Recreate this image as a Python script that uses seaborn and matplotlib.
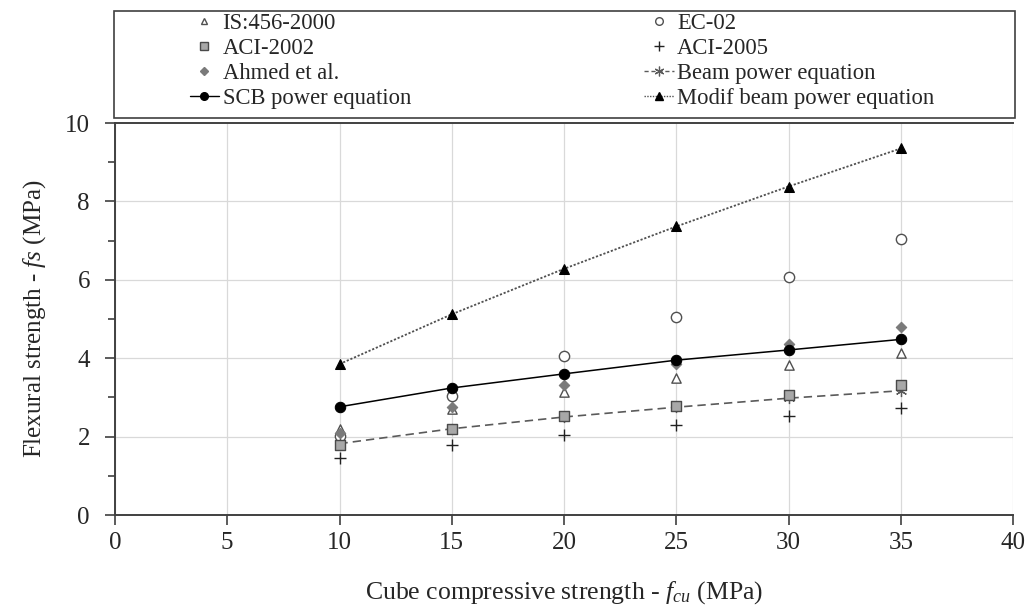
import matplotlib
matplotlib.use("Agg")
import matplotlib.pyplot as plt
from matplotlib.lines import Line2D
from matplotlib.patches import Rectangle
from matplotlib.ticker import MultipleLocator
import seaborn as sns
import numpy as np

# ---------------- data ----------------
fcu = [10, 15, 20, 25, 30, 35]
is456 = [2.19, 2.70, 3.13, 3.50, 3.82, 4.14]
ec02 = [2.01, 3.03, 4.05, 5.06, 6.06, 7.05]
aci2002 = [1.79, 2.19, 2.52, 2.79, 3.06, 3.31]
aci2005 = [1.46, 1.79, 2.05, 2.30, 2.53, 2.73]
ahmed = [2.08, 2.76, 3.32, 3.86, 4.35, 4.80]
beam_power = [1.82, 2.20, 2.50, 2.75, 2.98, 3.17]
scb_power = [2.76, 3.24, 3.60, 3.95, 4.21, 4.48]
modif_beam = [3.85, 5.12, 6.28, 7.36, 8.38, 9.35]

labels = ["IS:456-2000", "EC-02", "ACI-2002", "ACI-2005", "Ahmed et al.",
          "Beam power equation", "SCB power equation", "Modif beam power equation"]
xticks = [0, 5, 10, 15, 20, 25, 30, 35, 40]
yticks = [0, 2, 4, 6, 8, 10]

# ---------------- style ----------------
sns.set_style("white")
plt.rcParams["font.family"] = ["Liberation Serif", "DejaVu Serif"]
plt.rcParams["mathtext.fontset"] = "custom"
plt.rcParams["mathtext.rm"] = "Liberation Serif"
plt.rcParams["mathtext.it"] = "Liberation Serif:italic"

fig = plt.figure(figsize=(10.32, 6.15), dpi=100)
ax = fig.add_axes([115/1032, 1-515/615, 898/1032, 392/615])

grid_c = "#d9d9d9"
spine_c = "#404040"
for v in xticks:
    ax.axvline(v, color=grid_c, lw=0.9, zorder=0)
for v in yticks[1:-1]:
    ax.axhline(v, color=grid_c, lw=0.9, zorder=0)

# series
sns.scatterplot(x=fcu, y=is456, ax=ax, marker="^", s=45, facecolor="white",
                edgecolor="#505050", linewidth=1.0, zorder=3)
sns.scatterplot(x=fcu, y=ec02, ax=ax, marker="o", s=55, facecolor="white",
                edgecolor="#505050", linewidth=1.0, zorder=3)
sns.scatterplot(x=fcu, y=ahmed, ax=ax, marker="D", s=28, color="#7a7a7a",
                edgecolor="#7a7a7a", linewidth=0.8, zorder=3)
sns.scatterplot(x=fcu, y=aci2005, ax=ax, marker="+", s=70, color="#222222",
                linewidth=1.0, zorder=3)
sns.lineplot(x=fcu, y=beam_power, ax=ax, color="#5a5a5a", lw=1.2,
             linestyle=(0, (5, 3)), marker=(6, 2, 0), markersize=8,
             markeredgewidth=0.9, markeredgecolor="#5a5a5a", zorder=3)
sns.scatterplot(x=fcu, y=aci2002, ax=ax, marker="s", s=60, color="#a8a8a8",
                edgecolor="#4a4a4a", linewidth=1.0, zorder=4)
sns.lineplot(x=fcu, y=scb_power, ax=ax, color="black", lw=1.1, marker="o",
             markersize=7.5, markeredgecolor="black", zorder=5)
sns.lineplot(x=fcu, y=modif_beam, ax=ax, color="#505050", lw=1.3,
             linestyle=(0, (1.2, 1.0)), marker="^", markersize=7.5,
             markerfacecolor="black", markeredgecolor="black", zorder=5)

ax.set_xlim(0, 40)
ax.set_ylim(0, 10)
ax.set_xticks(xticks)
ax.set_yticks(yticks)
ax.yaxis.set_minor_locator(MultipleLocator(1))
ax.tick_params(axis="both", which="major", direction="out", length=7,
               width=1.2, color=spine_c, labelsize=18, bottom=True, left=True)
ax.tick_params(axis="y", which="major", pad=11)
ax.tick_params(axis="x", which="major", pad=5)
ax.tick_params(axis="y", which="minor", direction="out", length=5,
               width=1.2, color=spine_c, left=True)
for side in ["left", "bottom", "top"]:
    ax.spines[side].set_visible(True)
    ax.spines[side].set_color(spine_c)
    ax.spines[side].set_linewidth(1.4)
ax.spines["right"].set_visible(False)

ax.set_xlabel(r"Cube compressive strength - $f_{cu}$ (MPa)", fontsize=18.5,
              labelpad=18)
ax.set_ylabel(r"Flexural strength - $fs$ (MPa)", fontsize=18, labelpad=12)

# legend (row-wise order as in the reference: reorder for column filling)
h = [
    Line2D([], [], ls="", marker="^", ms=5, mfc="white", mec="#505050"),
    Line2D([], [], ls="", marker="o", ms=5.5, mfc="white", mec="#505050"),
    Line2D([], [], ls="", marker="s", ms=5.5, mfc="#a8a8a8", mec="#4a4a4a"),
    Line2D([], [], ls="", marker="+", ms=7, color="#222222"),
    Line2D([], [], ls="", marker="D", ms=4, mfc="#7a7a7a", mec="#7a7a7a"),
    Line2D([], [], ls=(0, (3, 2)), lw=1.0, color="#5a5a5a", marker=(6, 2, 0),
           ms=7, mew=0.9),
    Line2D([], [], ls="-", lw=1.0, color="black", marker="o", ms=5.5),
    Line2D([], [], ls=(0, (1, 1)), lw=1.0, color="#505050", marker="^",
           ms=5.5, mfc="black", mec="black"),
]
order = [0, 2, 4, 6, 1, 3, 5, 7]
fig.legend([h[i] for i in order], [labels[i] for i in order], ncol=2,
           frameon=False, loc="center",
           bbox_to_anchor=(562/1032, 1-61/615), fontsize=16.3,
           handlelength=1.3, handletextpad=0.15, columnspacing=10.3,
           labelspacing=0.17, borderpad=0)
fig.add_artist(Rectangle((114/1032, 1-118/615), 901/1032, 107/615,
                         transform=fig.transFigure, fill=False,
                         edgecolor=spine_c, lw=1.2))

fig.savefig("out.png", dpi=100)
